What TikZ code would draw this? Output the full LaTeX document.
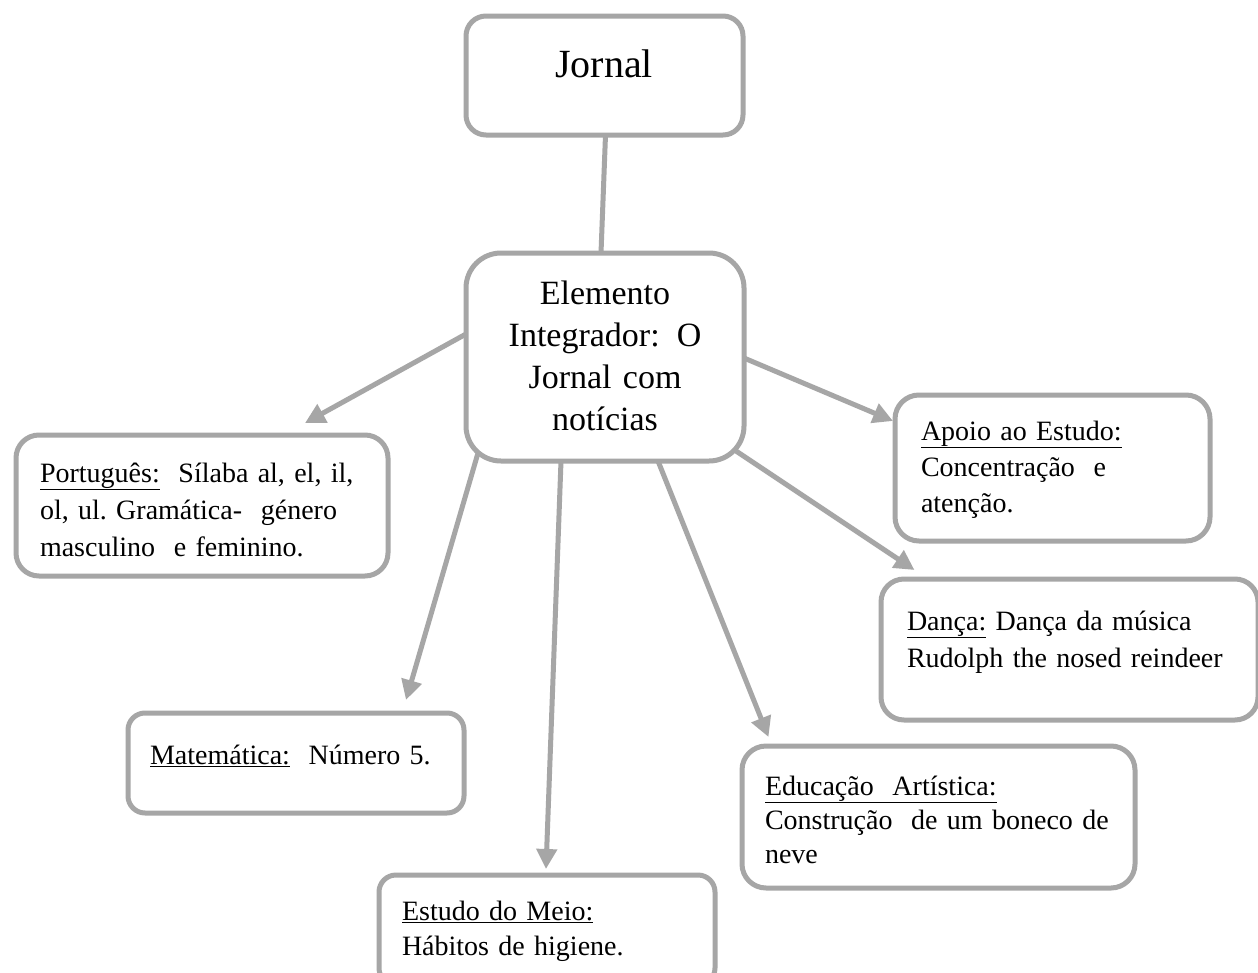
\documentclass[tikz,border=0pt]{standalone}
\usepackage{fontspec}
\setmainfont{Liberation Serif}
\usetikzlibrary{arrows.meta,calc}
\definecolor{lg}{RGB}{166,166,166}
\begin{document}
\begin{tikzpicture}[x=1pt,y=-1pt,
  box/.style={draw=lg, line width=5pt, rounded corners=#1, inner sep=0pt, outer sep=0pt, anchor=north west, fill=white},
  box/.default=22pt,
  conn/.style={draw=lg, line width=5pt},
  arr/.style={conn, -{Triangle[length=20pt,width=20pt]}},
  body/.style={font=\fontsize{28}{#1}\selectfont, inner sep=0pt, outer sep=0pt, anchor=base west, align=left, text width=360pt},
  body/.default=36pt
]
\fill[white] (0,0) rectangle (1258,972);
\useasboundingbox (0,0) rectangle (1258,972);

% boxes
\node[box=20pt, minimum width=277pt, minimum height=119pt] (jor) at (466,16) {};
\node[box=35pt, minimum width=278pt, minimum height=208pt] (elem) at (466,253) {};
\node[box=23pt, minimum width=372pt, minimum height=141pt] (port) at (16,435) {};
\node[box=24pt, minimum width=315pt, minimum height=146pt] (apoio) at (895,395) {};
\node[box=23pt, minimum width=377pt, minimum height=141pt] (danca) at (881,579) {};
\node[box=17pt, minimum width=336pt, minimum height=100pt] (mat) at (128,713) {};
\node[box=17pt, minimum width=336pt, minimum height=110pt] (est) at (379,875) {};
\node[box=24pt, minimum width=393pt, minimum height=142pt] (edu) at (742,746) {};

% texts
\node[font=\fontsize{40}{48}\selectfont, inner sep=0pt, anchor=base] (jorT) at (604,77) {Jornal};
\node[font=\fontsize{34}{42}\selectfont, inner sep=0pt, anchor=base, align=center, text width=270pt] (elemT) at (605,304) {Elemento\\Integrador: O\\Jornal com\\notícias};
\node[body=37pt] (portT) at (40,482) {\underline{Português:}\ \ Sílaba al, el, il,\\ol, ul.\ Gramática-\ \ género\\masculino\ \ e feminino.};
\node[body=36pt] (apoioT) at (921,440) {\underline{Apoio ao Estudo:}\\Concentração\ \ e\\atenção.};
\node[body=37pt] (dancaT) at (907,630) {\underline{Dança:} Dança da música\\Rudolph the nosed reindeer};
\node[body] (matT) at (150,764) {\underline{Matemática:}\ \ Número 5.};
\node[body=35pt] (estT) at (402,920) {\underline{Estudo do Meio:}\\Hábitos de higiene.};
\node[body=34pt] (eduT) at (765,795) {\underline{Educação\ \ Artística:}\\Construção\ \ de um boneco de\\neve};

% connectors
\draw[conn] ($(jor.south)+(1,0)$) -- ($(elem.north)+(-4,0)$);
\draw[arr] ($(elem.west)+(0,-23)$) -- ($(port.north)+(103,-12)$);
\draw[arr] ($(elem.south west)+(12,-8)$) -- ($(mat.north)+(110,-13)$);
\draw[arr] ($(elem.south)+(-44,0)$) -- ($(est.north)+(-1,-6)$);
\draw[arr] ($(elem.south)+(53,0)$) -- ($(edu.north)+(-170,-9)$);
\draw[arr] ($(elem.south east)+(-8,-10)$) -- ($(danca.north)+(-155,-9)$);
\draw[arr] ($(elem.east)+(0,1)$) -- ($(apoio.west)+(-2,-47)$);
\end{tikzpicture}
\end{document}
